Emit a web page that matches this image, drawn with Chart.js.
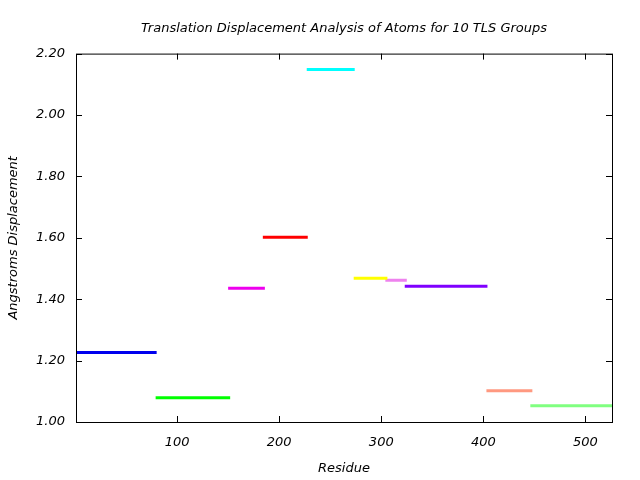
<!DOCTYPE html>
<html>
<head>
<meta charset="utf-8">
<script src="https://cdn.jsdelivr.net/npm/chart.js@4.4.1/dist/chart.umd.min.js"></script>
<style>
  html,body{margin:0;padding:0;background:#fff}
  #wrap{width:640px;height:480px}
</style>
</head>
<body>
<div id="wrap"><canvas id="c" width="640" height="480"></canvas></div>
<script>
// TLS groups: residue ranges and translation displacement
const groupStart = [1, 79, 150, 184, 227, 273, 304, 323, 403, 446];
const groupEnd   = [80, 152, 186, 228, 274, 306, 325, 404, 448, 526];
const displacement = [1.226, 1.079, 1.436, 1.602, 2.148, 1.468, 1.462, 1.442, 1.102, 1.053];
const groupColors = ["#0000ee", "#00ff00", "#ee00ee", "#ff0000", "#00ffff",
                     "#ffff00", "#ee82ee", "#7f00ff", "#ff9980", "#80ff80"];
const xTicks = [100, 200, 300, 400, 500];
const yTicks = [1.0, 1.2, 1.4, 1.6, 1.8, 2.0, 2.2];

const FONT = "DejaVu Sans";

const datasets = displacement.map((v, i) => ({
  label: "Group " + (i + 1),
  data: [{x: groupStart[i], y: v}, {x: groupEnd[i], y: v}],
  borderColor: groupColors[i],
  borderWidth: 3,
  pointRadius: 0,
  fill: false
}));

// box frame + inward ticks on all four sides
const framePlugin = {
  id: "frame",
  afterDatasetsDraw(chart) {
    const {ctx, chartArea: a, scales: {x, y}} = chart;
    ctx.save();
    ctx.strokeStyle = "#000";
    ctx.lineWidth = 1;
    ctx.strokeRect(a.left + 0.5, a.top + 0.5, a.right - a.left, a.bottom - a.top);
    ctx.beginPath();
    const L = 6;
    xTicks.forEach(t => {
      const px = Math.round(x.getPixelForValue(t)) + 0.5;
      ctx.moveTo(px, a.bottom); ctx.lineTo(px, a.bottom - L);
      ctx.moveTo(px, a.top); ctx.lineTo(px, a.top + L);
    });
    yTicks.forEach(t => {
      const py = Math.round(y.getPixelForValue(t)) + 0.5;
      ctx.moveTo(a.left, py); ctx.lineTo(a.left + L, py);
      ctx.moveTo(a.right, py); ctx.lineTo(a.right - L, py);
    });
    ctx.stroke();
    ctx.restore();
  }
};

new Chart(document.getElementById("c"), {
  type: "line",
  data: {datasets},
  plugins: [framePlugin],
  options: {
    responsive: false,
    animation: false,
    layout: {padding: {left: 0, right: 28, top: 3, bottom: 0}},
    plugins: {
      legend: {display: false},
      tooltip: {enabled: false},
      title: {
        display: true,
        fullSize: false,
        text: "Translation Displacement Analysis of Atoms for 10 TLS Groups",
        color: "#000",
        font: {family: FONT, size: 13, style: "italic", weight: "normal"},
        padding: {top: 18, bottom: 17}
      }
    },
    scales: {
      x: {
        type: "linear",
        min: 1, max: 526,
        afterBuildTicks: s => { s.ticks = xTicks.map(v => ({value: v})); },
        afterFit: s => { s.height = 58; },
        grid: {display: false, drawTicks: false},
        border: {display: false},
        ticks: {color: "#000", padding: 13, maxRotation: 0,
                font: {family: FONT, size: 13, style: "italic"}},
        title: {display: true, text: "Residue", color: "#000",
                font: {family: FONT, size: 13, style: "italic"}, padding: {top: 6}}
      },
      y: {
        min: 1.0, max: 2.2,
        afterBuildTicks: s => { s.ticks = yTicks.map(v => ({value: v})); },
        afterFit: s => { s.width = 76; },
        grid: {display: false, drawTicks: false},
        border: {display: false},
        ticks: {color: "#000", padding: 11, callback: v => v.toFixed(2),
                font: {family: FONT, size: 13, style: "italic"}},
        title: {display: true, text: "Angstroms Displacement", color: "#000",
                font: {family: FONT, size: 13, style: "italic"}, padding: {top: 6, bottom: 4}}
      }
    }
  }
});
</script>
</body>
</html>
